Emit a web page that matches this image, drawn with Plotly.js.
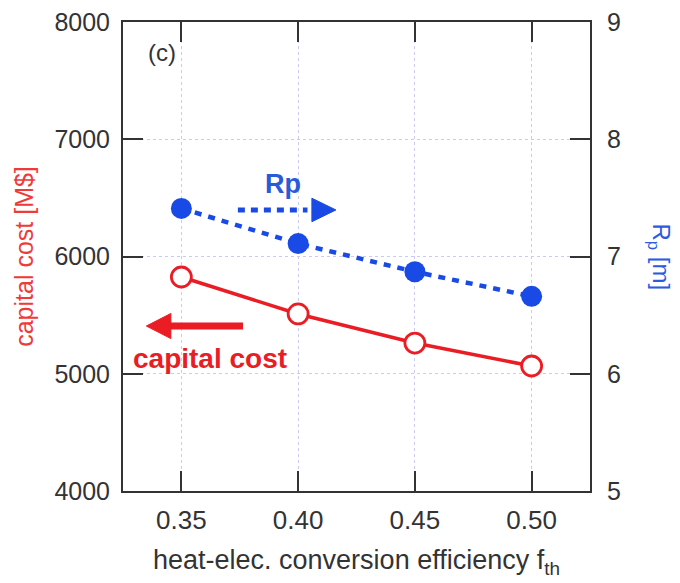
<!DOCTYPE html>
<html>
<head>
<meta charset="utf-8">
<script src="https://cdn.plot.ly/plotly-3.0.1.min.js"></script>
<style>html,body{margin:0;padding:0;background:#fff;}#chart{width:680px;height:583px;}</style>
</head>
<body>
<div id="chart"></div>
<script>
// Data
const efficiency = [0.35, 0.40, 0.45, 0.50];
const capitalCost = [5825, 5510, 5262, 5066];   // M$
const plasmaRadius = [7.41, 7.11, 6.87, 6.66];   // Rp [m]
const xTickVals = [0.35, 0.40, 0.45, 0.50];
const xTickText = ['0.35', '0.40', '0.45', '0.50'];
const yLeftTicks = [4000, 5000, 6000, 7000, 8000];
const yRightTicks = [5, 6, 7, 8, 9];

const RED = '#ea1c24';
const BLUE = '#1a4ae6';
const FONT = 'Liberation Sans, Arial, sans-serif';
const AX = '#333333';
const GRID = '#cacaf2';

const traces = [
  {
    x: efficiency, y: capitalCost, type: 'scatter', mode: 'lines+markers',
    line: {color: RED, width: 3.5},
    marker: {symbol: 'circle', size: 20, color: '#ffffff', line: {color: RED, width: 2.8}},
    xaxis: 'x', yaxis: 'y', showlegend: false
  },
  {
    x: efficiency, y: plasmaRadius, type: 'scatter', mode: 'lines+markers',
    line: {color: BLUE, width: 4.5, dash: '7px,7px'},
    marker: {symbol: 'circle', size: 21, color: BLUE},
    xaxis: 'x', yaxis: 'y2', showlegend: false
  }
];

const layout = {
  width: 680, height: 583,
  margin: {l: 123, r: 90, t: 22, b: 92},
  paper_bgcolor: '#ffffff', plot_bgcolor: '#ffffff',
  font: {family: FONT, color: AX, size: 24},
  xaxis: {
    range: [0.325, 0.525], tickvals: xTickVals, ticktext: xTickText,
    ticks: 'inside', ticklen: 20, tickwidth: 2, tickcolor: AX,
    showline: true, linewidth: 2, linecolor: AX, mirror: 'ticks',
    showgrid: true, gridcolor: GRID, griddash: 'dot', gridwidth: 1,
    zeroline: false, ticklabelstandoff: 5,
    tickfont: {size: 26, color: AX}
  },
  yaxis: {
    range: [4000, 8000], tickvals: yLeftTicks,
    ticks: 'inside', ticklen: 20, tickwidth: 2, tickcolor: AX,
    showline: true, linewidth: 2, linecolor: AX, mirror: true,
    showgrid: true, gridcolor: GRID, griddash: 'dot', gridwidth: 1,
    zeroline: false, ticklabelstandoff: 6,
    tickfont: {size: 25, color: AX},
    title: {text: 'capital cost [M$]', font: {size: 25, color: '#f03a3a'}, standoff: 14}
  },
  yaxis2: {
    range: [5, 9], tickvals: yRightTicks, overlaying: 'y', side: 'right',
    ticks: 'inside', ticklen: 20, tickwidth: 2, tickcolor: AX,
    showline: true, linewidth: 2, linecolor: AX,
    showgrid: false, zeroline: false, ticklabelstandoff: 10,
    tickfont: {size: 25, color: AX}
  },
  shapes: [
    {type: 'line', xref: 'x', yref: 'y', x0: 0.3742, x1: 0.4040, y0: 6397, y1: 6397,
     line: {color: BLUE, width: 5, dash: '7px,6px'}},
    {type: 'path', xref: 'x', yref: 'y', path: 'M 0.4059,6297 L 0.4162,6397 L 0.4059,6497 Z',
     fillcolor: BLUE, line: {color: BLUE, width: 1}},
    {type: 'line', xref: 'x', yref: 'y', x0: 0.3764, x1: 0.3430, y0: 5407, y1: 5407,
     line: {color: RED, width: 7}},
    {type: 'path', xref: 'x', yref: 'y', path: 'M 0.3455,5300 L 0.3350,5407 L 0.3455,5514 Z',
     fillcolor: RED, line: {color: RED, width: 1}}
  ],
  annotations: [
    {xref: 'x', yref: 'y', x: 0.3417, y: 7744, text: '(c)', showarrow: false,
     font: {size: 24, color: AX}},
    {xref: 'x', yref: 'y', x: 0.3935, y: 6620, text: '<b>Rp</b>', showarrow: false,
     font: {size: 27, color: '#2a5ad8'}},
    {xref: 'x', yref: 'y', x: 0.3623, y: 5134, text: '<b>capital cost</b>', showarrow: false,
     font: {size: 28, color: RED}},
    {xref: 'paper', yref: 'paper', x: 1.148, y: 0.5, xanchor: 'center', yanchor: 'middle',
     text: 'R<sub>p</sub> [m]', showarrow: false,
     textangle: 90, font: {size: 24, color: '#2a5be0'}},
    {xref: 'paper', yref: 'paper', x: 0.5, y: -0.152, xanchor: 'center', yanchor: 'middle',
     text: 'heat-elec. conversion efficiency f<sub>th</sub>', showarrow: false,
     font: {size: 27, color: AX}}
  ]
};

Plotly.newPlot('chart', traces, layout, {staticPlot: true, displayModeBar: false});
</script>
</body>
</html>
